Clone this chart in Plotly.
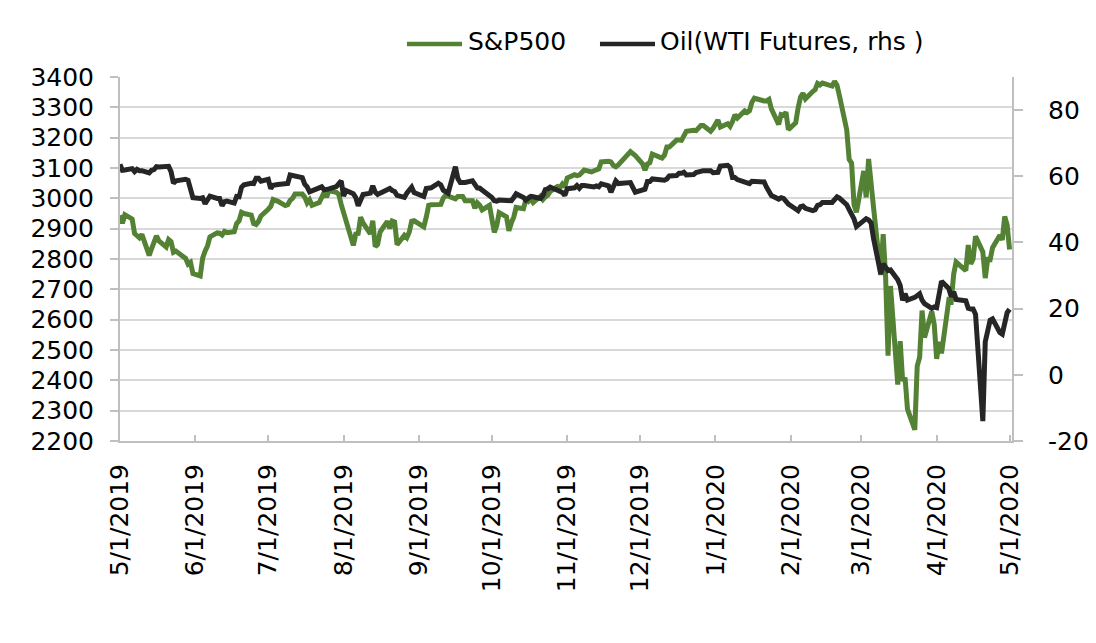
import pandas as pd
import plotly.graph_objects as go

# Trading days 5/1/2019 - 5/1/2020 (US market holidays removed)
holidays = ["2019-05-27", "2019-07-04", "2019-09-02", "2019-11-28", "2019-12-25",
            "2020-01-01", "2020-01-20", "2020-02-17", "2020-04-10"]
dates = [d for d in pd.bdate_range("2019-05-01", "2020-05-01").strftime("%Y-%m-%d")
         if d not in holidays]

spx_may19 = [2944, 2918, 2946, 2932, 2884, 2879, 2870, 2881, 2812, 2834, 2851, 2876, 2860, 2840, 2864, 2857, 2822, 2826, 2802, 2783, 2789, 2752]
spx_jun19 = [2744, 2803, 2826, 2843, 2873, 2886, 2885, 2879, 2891, 2887, 2890, 2917, 2926, 2954, 2950, 2945, 2917, 2914, 2924, 2942]
spx_jul19 = [2964, 2973, 2996, 2990, 2976, 2979, 2993, 3000, 3014, 3014, 3004, 2985, 2995, 2977, 2986, 3005, 3020, 3004, 3026, 3020, 3013, 2980]
spx_aug19 = [2954, 2932, 2845, 2882, 2884, 2938, 2919, 2883, 2926, 2841, 2848, 2889, 2924, 2901, 2925, 2922, 2847, 2878, 2870, 2888, 2924, 2926]
spx_sep19 = [2906, 2938, 2977, 2979, 2979, 2980, 3001, 3010, 3007, 2998, 3006, 3006, 3006, 2992, 2992, 2967, 2985, 2977, 2962, 2977]
spx_oct19 = [2941, 2888, 2910, 2953, 2939, 2893, 2919, 2938, 2970, 2966, 2996, 2990, 2998, 2986, 3007, 2996, 3005, 3010, 3023, 3039, 3036, 3047, 3038]
spx_nov19 = [3067, 3078, 3075, 3077, 3085, 3093, 3087, 3092, 3094, 3097, 3120, 3122, 3120, 3108, 3104, 3110, 3133, 3141, 3154, 3141]
spx_dec19 = [3114, 3093, 3113, 3118, 3146, 3136, 3133, 3142, 3169, 3169, 3192, 3192, 3191, 3206, 3221, 3224, 3223, 3240, 3240, 3221, 3231]
spx_jan20 = [3258, 3235, 3246, 3237, 3253, 3275, 3265, 3288, 3283, 3289, 3317, 3330, 3321, 3321, 3326, 3295, 3244, 3276, 3274, 3284, 3226]
spx_feb20 = [3249, 3298, 3334, 3346, 3328, 3352, 3358, 3379, 3374, 3380, 3370, 3386, 3373, 3338, 3226, 3128, 3116, 2979, 2954]
spx_mar20 = [3090, 3003, 3130, 3024, 2972, 2747, 2882, 2741, 2481, 2711, 2386, 2529, 2398, 2409, 2305, 2237, 2447, 2476, 2630, 2541, 2627, 2585]
spx_apr20 = [2471, 2527, 2489, 2664, 2660, 2750, 2790, 2762, 2846, 2784, 2800, 2875, 2823, 2737, 2799, 2798, 2837, 2878, 2863, 2940, 2912, 2831]

oil_may19 = [63.6, 61.8, 61.9, 62.3, 61.4, 62.1, 61.7, 61.7, 61.0, 61.8, 62.0, 62.9, 62.8, 63.1, 63.0, 61.4, 57.9, 58.6, 59.1, 58.8, 56.6, 53.5]
oil_jun19 = [53.3, 53.5, 51.7, 52.6, 54.0, 53.3, 53.3, 51.1, 52.3, 52.5, 51.9, 53.9, 53.8, 56.7, 57.4, 57.9, 57.8, 59.4, 59.4, 58.5]
oil_jul19 = [59.1, 56.3, 57.3, 57.5, 57.7, 57.8, 60.4, 60.2, 60.2, 59.6, 57.6, 56.8, 55.3, 55.6, 56.2, 56.8, 55.9, 56.0, 56.2, 56.9, 58.1, 58.6]
oil_aug19 = [54.0, 55.7, 54.7, 53.6, 51.1, 52.5, 54.5, 54.9, 57.1, 55.2, 54.5, 54.9, 56.2, 56.3, 55.7, 55.4, 54.2, 53.6, 54.9, 55.8, 56.7, 55.1]
oil_sep19 = [53.9, 56.3, 56.3, 56.5, 57.9, 57.4, 55.8, 55.1, 54.9, 62.9, 59.3, 58.1, 58.1, 58.1, 58.6, 57.3, 56.5, 56.4, 55.9, 54.1]
oil_oct19 = [53.6, 52.6, 52.5, 52.8, 52.8, 52.6, 52.6, 53.6, 54.7, 53.6, 52.8, 53.4, 53.9, 53.8, 53.3, 54.2, 56.0, 56.2, 56.7, 55.8, 55.5, 55.1, 54.2]
oil_nov19 = [56.2, 56.5, 57.2, 56.4, 57.2, 57.2, 56.9, 56.8, 57.1, 56.8, 57.7, 57.1, 55.2, 57.1, 58.6, 57.8, 58.0, 58.4, 58.1, 55.2]
oil_dec19 = [56.0, 56.1, 58.4, 58.4, 59.2, 59.0, 59.2, 58.8, 59.2, 60.1, 60.2, 60.9, 60.9, 61.2, 60.4, 60.5, 61.1, 61.7, 61.7, 61.7, 61.1]
oil_jan20 = [61.2, 63.1, 63.3, 62.7, 59.6, 59.6, 59.0, 58.1, 58.2, 57.8, 58.5, 58.5, 58.3, 56.7, 55.6, 54.2, 53.1, 53.5, 53.3, 52.1, 51.6]
oil_feb20 = [50.1, 49.6, 50.8, 51.0, 50.3, 49.6, 49.9, 51.2, 51.4, 52.1, 52.1, 53.3, 53.8, 53.4, 51.4, 49.9, 48.7, 47.1, 44.8]
oil_mar20 = [46.8, 47.2, 46.8, 45.9, 41.3, 30.5, 33.5, 32.5, 31.5, 31.7, 28.7, 27.0, 22.5, 24.5, 22.6, 23.4, 24.0, 24.5, 22.6, 21.5, 20.1, 20.5]
oil_apr20 = [20.3, 25.3, 28.3, 26.1, 23.6, 25.1, 22.8, 22.4, 20.1, 19.9, 19.9, 18.3, -14.0, 10.0, 13.8, 16.5, 16.9, 12.8, 12.3, 15.1, 18.8, 19.8]

spx = (spx_may19 + spx_jun19 + spx_jul19 + spx_aug19 + spx_sep19 + spx_oct19 +
       spx_nov19 + spx_dec19 + spx_jan20 + spx_feb20 + spx_mar20 + spx_apr20)
oil = (oil_may19 + oil_jun19 + oil_jul19 + oil_aug19 + oil_sep19 + oil_oct19 +
       oil_nov19 + oil_dec19 + oil_jan20 + oil_feb20 + oil_mar20 + oil_apr20)

series_names = ["S&P500", "Oil(WTI Futures, rhs )"]
x_tickvals = ["2019-05-01", "2019-06-01", "2019-07-01", "2019-08-01", "2019-09-01", "2019-10-01",
              "2019-11-01", "2019-12-01", "2020-01-01", "2020-02-01", "2020-03-01", "2020-04-01", "2020-05-01"]
x_ticktext = ["5/1/2019", "6/1/2019", "7/1/2019", "8/1/2019", "9/1/2019", "10/1/2019",
              "11/1/2019", "12/1/2019", "1/1/2020", "2/1/2020", "3/1/2020", "4/1/2020", "5/1/2020"]
left_ticks = [2200, 2300, 2400, 2500, 2600, 2700, 2800, 2900, 3000, 3100, 3200, 3300, 3400]
right_ticks = [-20, 0, 20, 40, 60, 80]
right_ticktext = ["-20", "0", "20", "40", "60", "80"]

GREEN = "#548235"
BLACK = "#262626"
AXIS = "#BFBFBF"
GRID = "#D9D9D9"
FONT = "DejaVu Sans"

fig = go.Figure()
fig.add_trace(go.Scatter(x=dates, y=spx, name=series_names[0], mode="lines",
                         line=dict(color=GREEN, width=5)))
fig.add_trace(go.Scatter(x=dates, y=oil, name=series_names[1], mode="lines",
                         line=dict(color=BLACK, width=5), yaxis="y2"))

# legend drawn as line samples + text (matching the reference's long line samples)
legend_items = [(GREEN, 0.3217, 0.3834, 0.3879, series_names[0]),
                (BLACK, 0.5381, 0.5998, 0.6031, series_names[1])]
shapes = []
annotations = []
for color, lx0, lx1, tx, label in legend_items:
    shapes.append(dict(type="line", xref="paper", yref="paper", x0=lx0, x1=lx1,
                       y0=1.0907, y1=1.0907, line=dict(color=color, width=4.5)))
    annotations.append(dict(xref="paper", yref="paper", x=tx, y=1.0975, xanchor="left",
                            yanchor="middle", text=label, showarrow=False,
                            font=dict(family=FONT, size=25, color="#000000")))

# page body adds an 8px offset; the figure is sized so the plot area lands where the reference's does
fig.update_layout(
    width=1080, height=627,
    margin=dict(l=112, r=76, t=69, b=194, autoexpand=False),
    paper_bgcolor="white", plot_bgcolor="white",
    font=dict(family=FONT, size=25, color="#000000"),
    showlegend=False,
    shapes=shapes, annotations=annotations,
    xaxis=dict(type="date", range=["2019-05-01", "2020-05-02"],
               tickvals=x_tickvals, ticktext=x_ticktext, tickangle=-90,
               ticks="inside", ticklen=6, tickcolor=AXIS, tickwidth=1.5,
               showline=True, linecolor=AXIS, linewidth=2, showgrid=False,
               zeroline=False, ticklabelstandoff=11,
               tickfont=dict(family=FONT, size=25, color="#000000")),
    yaxis=dict(range=[2200, 3400], tickvals=left_ticks, ticks="outside", ticklen=8,
               tickcolor=AXIS, tickwidth=1.5, showline=True, linecolor=AXIS, linewidth=2,
               showgrid=True, gridcolor=GRID, gridwidth=1.5, zeroline=False,
               ticklabelstandoff=11,
               tickfont=dict(family=FONT, size=25, color="#000000")),
    yaxis2=dict(range=[-20, 90], tickvals=right_ticks, ticktext=right_ticktext,
                overlaying="y", side="right",
                ticks="outside", ticklen=9, tickcolor=AXIS, tickwidth=1.5,
                showline=True, linecolor=AXIS, linewidth=2, showgrid=False, zeroline=False,
                ticklabelstandoff=20,
                tickfont=dict(family=FONT, size=25, color="#000000")),
)

fig.write_html("out.html")
